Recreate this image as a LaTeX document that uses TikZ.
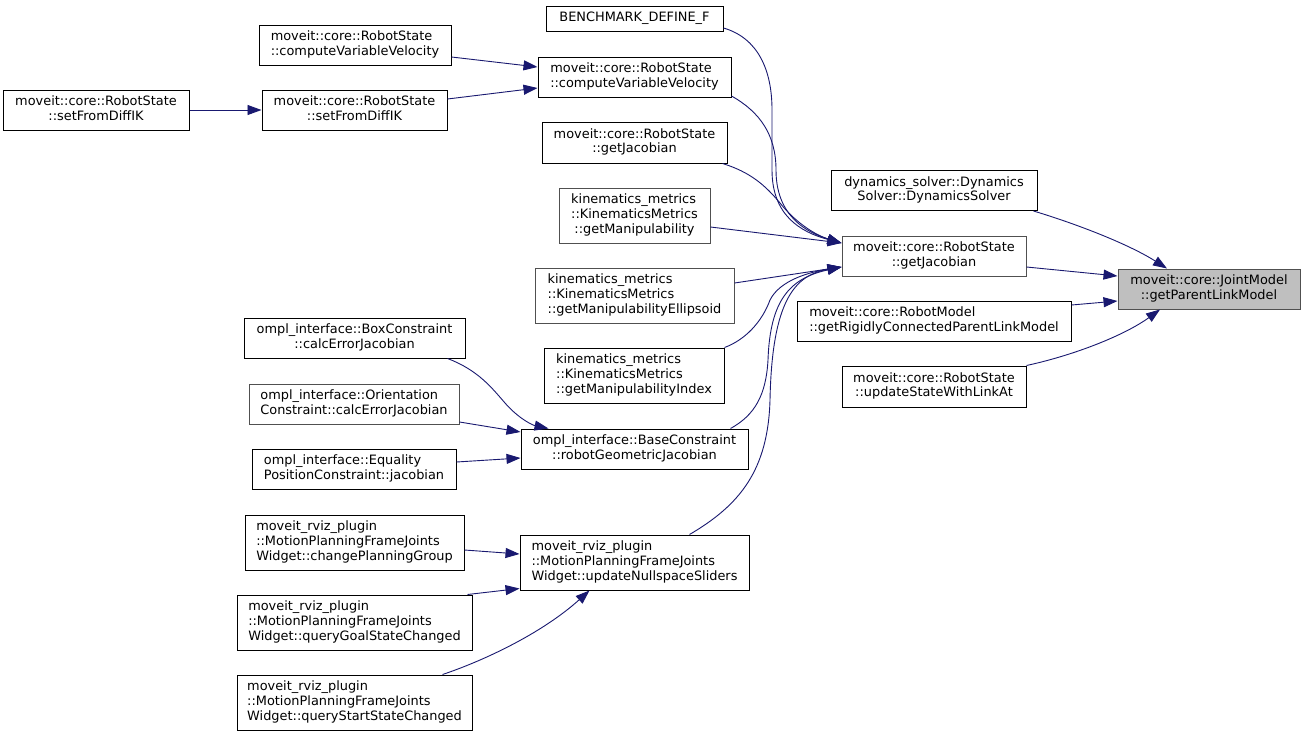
\documentclass[tikz,border=0pt]{standalone}
\usepackage{fontspec}
\setmainfont{DejaVu Sans}
\usetikzlibrary{arrows.meta}
\definecolor{edgeblue}{HTML}{191970}
\definecolor{rootgray}{HTML}{BFBFBF}
\definecolor{bordergray}{HTML}{505050}
\newcommand\Lc[1]{\multicolumn{1}{@{}c@{}}{#1}}
\newcommand\fnlab[1]{\begin{tabular}{@{}l@{}}#1\end{tabular}}
\begin{document}
\begin{tikzpicture}[x=1pt,y=-1pt,
  fn/.style={draw=black, fill=white, line width=1pt, inner sep=0pt,
    font=\fontsize{12.9}{14.6}\selectfont},
  fng/.style={fn, draw=bordergray},
  root/.style={fn, draw=bordergray, fill=rootgray},
  sz/.style 2 args={minimum width=#1pt, minimum height=#2pt},
  call/.style={draw=edgeblue, line width=0.9pt, -{Triangle[length=14pt,width=10pt]}},
]
\fill[white] (0,0) rectangle (1305,736);
\useasboundingbox (0,0) rectangle (1305,736);

% rank 0
\node[fn, sz={186}{40}] (sfdL) at (96,110) {\fnlab{moveit::core::RobotState\\\Lc{::setFromDiffIK}}};
% rank 1
\node[fn, sz={192}{40}] (cvvL) at (355,45) {\fnlab{moveit::core::RobotState\\\Lc{::computeVariableVelocity}}};
\node[fn, sz={185}{40}] (sfdM) at (354.5,110) {\fnlab{moveit::core::RobotState\\\Lc{::setFromDiffIK}}};
\node[fn, sz={221}{40}] (box) at (354.5,338) {\fnlab{ompl\_interface::BoxConstraint\\\Lc{::calcErrorJacobian}}};
\node[fng, sz={210}{40}] (orient) at (354,404) {\fnlab{ompl\_interface::Orientation\\\Lc{Constraint::calcErrorJacobian}}};
\node[fn, sz={204}{40}] (equal) at (354,469) {\fnlab{ompl\_interface::Equality\\\Lc{PositionConstraint::jacobian}}};
\node[fn, sz={219}{55}] (cpg) at (354.5,542.5) {\fnlab{moveit\_rviz\_plugin\\::MotionPlanningFrameJoints\\\Lc{Widget::changePlanningGroup}}};
\node[fn, sz={235}{55}] (goal) at (354.5,622.5) {\fnlab{moveit\_rviz\_plugin\\::MotionPlanningFrameJoints\\\Lc{Widget::queryGoalStateChanged}}};
\node[fn, sz={235}{55}] (start) at (354.5,702.5) {\fnlab{moveit\_rviz\_plugin\\::MotionPlanningFrameJoints\\\Lc{Widget::queryStartStateChanged}}};
% rank 2
\node[fn, sz={177}{25}] (bench) at (634.5,18.5) {\fnlab{\Lc{BENCHMARK\_DEFINE\_F}}};
\node[fn, sz={193}{40}] (cvvM) at (634.5,77) {\fnlab{moveit::core::RobotState\\\Lc{::computeVariableVelocity}}};
\node[fn, sz={185}{41}] (gjM) at (634.5,142.5) {\fnlab{moveit::core::RobotState\\\Lc{::getJacobian}}};
\node[fng, sz={151}{55}] (manip) at (634.5,215.5) {\fnlab{kinematics\_metrics\\::KinematicsMetrics\\\Lc{::getManipulability}}};
\node[fng, sz={199}{55}] (ellip) at (634.5,295.5) {\fnlab{kinematics\_metrics\\::KinematicsMetrics\\\Lc{::getManipulabilityEllipsoid}}};
\node[fn, sz={180}{55}] (index) at (634,375.5) {\fnlab{kinematics\_metrics\\::KinematicsMetrics\\\Lc{::getManipulabilityIndex}}};
\node[fn, sz={227}{40}] (base) at (634.5,449) {\fnlab{ompl\_interface::BaseConstraint\\\Lc{::robotGeometricJacobian}}};
\node[fn, sz={229}{55}] (null) at (634.5,562.5) {\fnlab{moveit\_rviz\_plugin\\::MotionPlanningFrameJoints\\\Lc{Widget::updateNullspaceSliders}}};
% rank 3
\node[fn, sz={206}{40}] (dyn) at (934,190.5) {\fnlab{dynamics\_solver::Dynamics\\\Lc{Solver::DynamicsSolver}}};
\node[fng, sz={184}{40}] (gj) at (934,256) {\fnlab{moveit::core::RobotState\\\Lc{::getJacobian}}};
\node[fn, sz={274}{40}] (rm) at (934,321) {\fnlab{moveit::core::RobotModel\\\Lc{::getRigidlyConnectedParentLinkModel}}};
\node[fn, sz={184}{41}] (us) at (934,386.5) {\fnlab{moveit::core::RobotState\\\Lc{::updateStateWithLinkAt}}};
% rank 4
\node[root, sz={182}{40}] (jm) at (1209,289) {\fnlab{moveit::core::JointModel\\\Lc{::getParentLinkModel}}};

% edges rank0 -> rank1 -> rank2
\draw[call] (sfdL.east) -- (sfdM.west);
\draw[call] ([yshift=-12pt]cvvL.east) -- ([yshift=10pt]cvvM.west);
\draw[call] ([yshift=11pt]sfdM.east) -- ([yshift=-11pt]cvvM.west);
\draw[call] ([xshift=-18pt]box.south east) .. controls (478,370) and (492,388) .. (505,403)
   .. controls (518,418) and (532,425) .. ([xshift=-86pt]base.north);
\draw[call] ([yshift=-18pt]orient.east) -- ([yshift=17pt]base.west);
\draw[call] ([yshift=7pt]equal.east) -- ([yshift=-9pt]base.west);
\draw[call] ([yshift=-7.5pt]cpg.east) -- ([yshift=8.5pt]null.west);
\draw[call] ([xshift=-5pt]goal.north east) -- ([yshift=2pt]null.south west);
\draw[call] ([xshift=-30pt]start.north east) .. controls (480,662) and (540,635) .. ([xshift=-45pt]null.south);

% rank2 -> gj (upper arrow)
\draw[call] ([yshift=-9.5pt]bench.east) .. controls (758,38) and (772,70) .. (772,110) -- (772,170)
   .. controls (772,215) and (800,232) .. ([yshift=13pt]gj.west);
\draw[call] ([yshift=-19pt]cvvM.east) .. controls (760,112) and (776,135) .. (776,170)
   .. controls (776,215) and (805,232) .. ([yshift=13pt]gj.west);
\draw[call] ([xshift=-5pt]gjM.south east) .. controls (750,172) and (765,185) .. (780,203)
   .. controls (795,222) and (815,235) .. ([yshift=13pt]gj.west);
\draw[call] ([yshift=-11.5pt]manip.east) -- ([yshift=13pt]gj.west);
% rank2 -> gj (lower arrow)
\draw[call] ([yshift=12.5pt]ellip.east) -- ([yshift=-11pt]gj.west);
\draw[call] (index.north east) .. controls (745,340) and (762,322) .. (770,300)
   .. controls (780,280) and (810,272) .. ([yshift=-11pt]gj.west);
\draw[call] ([xshift=-18pt]base.north east) .. controls (755,415) and (766,395) .. (768,360)
   .. controls (770,300) and (790,278) .. ([yshift=-11pt]gj.west);
\draw[call] ([xshift=55pt]null.north) .. controls (740,505) and (768,470) .. (770,400)
   .. controls (772,300) and (795,275) .. ([yshift=-11pt]gj.west);

% rank3 -> root
\draw[call] ([xshift=-4pt]dyn.south east) .. controls (1080,225) and (1130,245) .. ([xshift=-42pt]jm.north);
\draw[call] ([yshift=-11pt]gj.east) -- ([yshift=13pt]jm.west);
\draw[call] ([yshift=16pt]rm.east) -- ([yshift=-12pt]jm.west);
\draw[call] (us.north east) .. controls (1075,355) and (1125,335) .. ([xshift=-49pt]jm.south);
\end{tikzpicture}
\end{document}
